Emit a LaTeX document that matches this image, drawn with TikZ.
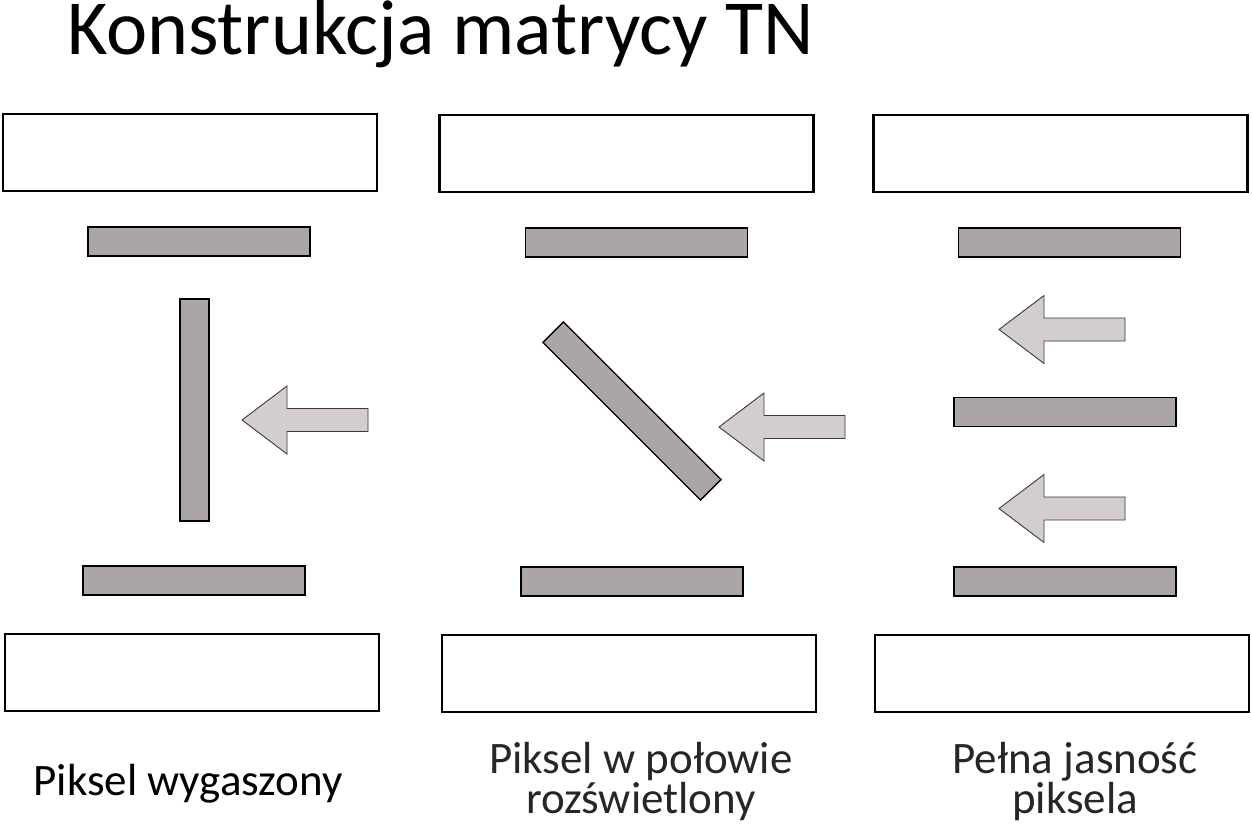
\documentclass[tikz,border=0pt]{standalone}
\usepackage{fontspec}
\setmainfont{Carlito}
\usetikzlibrary{positioning}
\definecolor{bargray}{HTML}{ABA5A5}
\definecolor{lightgray}{HTML}{D3CDCD}
\definecolor{edgegray}{HTML}{3A3A3A}

\begin{document}
\begin{tikzpicture}[
  x=1pt, y=-1pt,
  every node/.style={inner sep=0pt, outer sep=0pt},
  glass/.style={draw=black, fill=white, line width=2.6pt,
                minimum width=374pt, minimum height=77pt},
  filter/.style={draw=black, fill=bargray, line width=1.4pt,
                 minimum width=222pt, minimum height=29pt},
  caption/.style={font=\fontsize{45}{34}\selectfont, align=center, anchor=base},
  lightarr/.pic={
    \draw[draw=edgegray, fill=lightgray, line width=0.9pt]
      (0,0) -- (45,-34) -- (45,-11.5) -- (126,-11.5) -- (126,11.5)
      -- (45,11.5) -- (45,34) -- cycle;
  },
]
\useasboundingbox (0,0) rectangle (1252,831);
% ---- title ----
\node[font=\fontsize{78}{84}\selectfont, anchor=base west] (title) at (67,54)
  {Konstrukcja matrycy TN};
% ---- column 1: pixel off ----
\node[glass]  (topA) at (190,152.5) {};
\node[filter] (polA) at (199,241.5) {};
\node[filter, rotate=90] (lcA) at (194.5,410) {};
\pic at (242,420) {lightarr};
\node[filter] (anA) at (194,580.5) {};
\node[glass]  (botA) at (192,672.5) {};
\node[caption] (capA) at (188,795) {Piksel wygaszony};
% ---- column 2: half lit ----
\node[glass]  (topB) at (626.5,153.5) {};
\node[filter] (polB) at (636.5,242.5) {};
\node[filter, minimum width=223pt, rotate=-45] (lcB) at (632,411) {};
\pic at (719,427) {lightarr};
\node[filter] (anB) at (632,581.5) {};
\node[glass]  (botB) at (629,673.5) {};
\node[caption, text=black!85] (capB) at (641,813) {Piksel w połowie\\rozświetlony};
% ---- column 3: full brightness ----
\node[glass]  (topC) at (1060.5,153.5) {};
\node[filter] (polC) at (1069.5,242.5) {};
\pic at (999,329.5) {lightarr};
\node[filter] (lcC) at (1065,412) {};
\pic at (999,508.5) {lightarr};
\node[filter] (anC) at (1065,581.5) {};
\node[glass]  (botC) at (1062,673.5) {};
\node[caption, text=black!85] (capC) at (1075,813) {Pełna jasność\\piksela};
\end{tikzpicture}
\end{document}
